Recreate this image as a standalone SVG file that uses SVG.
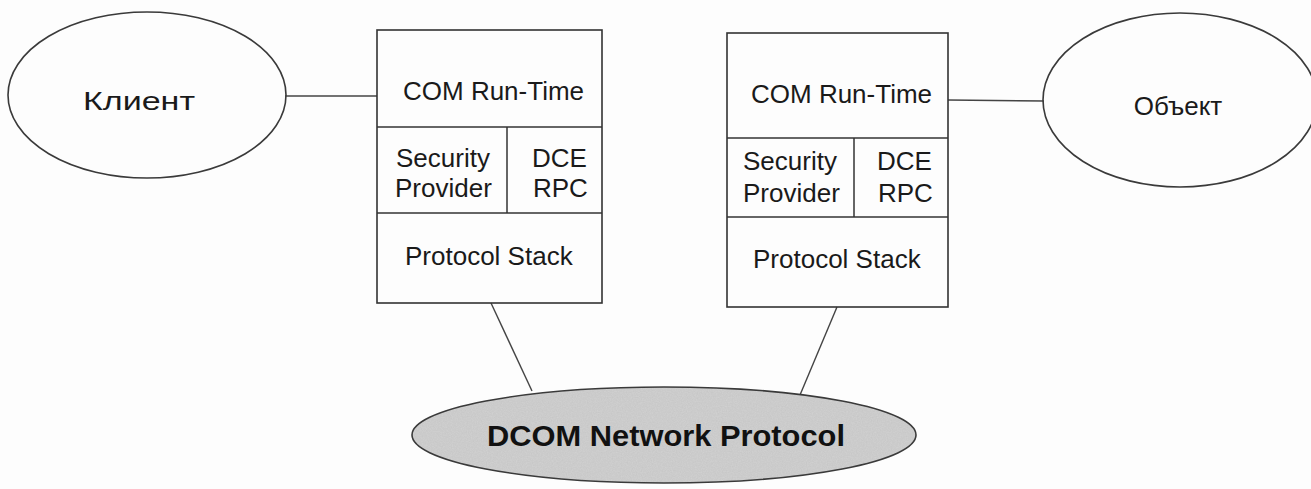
<svg xmlns="http://www.w3.org/2000/svg" width="1311" height="489" viewBox="0 0 1311 489">
  <style>
    .bg { fill: #fdfdfd; }
    .ell { fill: none; stroke: #3a3a3a; stroke-width: 1.6; }
    .box { fill: none; stroke: #333333; stroke-width: 1.6; }
    .ln { stroke: #333333; stroke-width: 1.5; fill: none; }
    .conn { stroke: #444444; stroke-width: 1.4; fill: none; }
    .t { font-family: "Liberation Sans", Arial, sans-serif; font-size: 26px; fill: #1a1a1a; }
    .tb { font-family: "Liberation Sans", Arial, sans-serif; font-size: 29px; font-weight: bold; fill: #111111; }
  </style>
  <defs>
    <filter id="grain" x="0" y="0" width="100%" height="100%">
      <feTurbulence type="fractalNoise" baseFrequency="0.8" numOctaves="2" seed="3" result="n"/>
      <feColorMatrix in="n" type="matrix" values="0 0 0 0 0.55  0 0 0 0 0.55  0 0 0 0 0.55  0 0 0 0.9 0" result="g"/>
      <feComposite in="g" in2="SourceGraphic" operator="in" result="gi"/>
      <feMerge><feMergeNode in="SourceGraphic"/><feMergeNode in="gi"/></feMerge>
    </filter>
  </defs>
  <rect class="bg" x="0" y="0" width="1311" height="489"/>

  <g id="connectors">
    <line class="conn" x1="285" y1="96" x2="377" y2="96"/>
    <line class="conn" x1="948" y1="100" x2="1044" y2="101"/>
    <line class="conn" x1="491" y1="303" x2="532" y2="391"/>
    <line class="conn" x1="837" y1="307" x2="800" y2="395"/>
  </g>

  <g id="client">
    <ellipse class="ell" cx="147" cy="95" rx="139" ry="83"/>
    <text class="t" x="139" y="110" text-anchor="middle" textLength="112" lengthAdjust="spacingAndGlyphs">Клиент</text>
  </g>

  <g id="object">
    <ellipse class="ell" cx="1180" cy="100" rx="137" ry="87" stroke="#555555"/>
    <text class="t" x="1178" y="115" text-anchor="middle">Объект</text>
  </g>

  <g id="client-stack">
    <rect class="box" x="377" y="30" width="225" height="273"/>
    <line class="ln" x1="377" y1="127" x2="602" y2="127"/>
    <line class="ln" x1="507" y1="127" x2="507" y2="213"/>
    <line class="ln" x1="377" y1="213" x2="602" y2="213"/>
    <text class="t" x="403" y="100">COM Run-Time</text>
    <text class="t" x="396" y="167">Security</text>
    <text class="t" x="395" y="197">Provider</text>
    <text class="t" x="532" y="167">DCE</text>
    <text class="t" x="533" y="197">RPC</text>
    <text class="t" x="405" y="265">Protocol Stack</text>
  </g>

  <g id="object-stack">
    <rect class="box" x="727" y="33" width="221" height="274"/>
    <line class="ln" x1="727" y1="138" x2="948" y2="138"/>
    <line class="ln" x1="854" y1="138" x2="854" y2="217"/>
    <line class="ln" x1="727" y1="217" x2="948" y2="217"/>
    <text class="t" x="751" y="103">COM Run-Time</text>
    <text class="t" x="743" y="170">Security</text>
    <text class="t" x="743" y="202">Provider</text>
    <text class="t" x="877" y="170">DCE</text>
    <text class="t" x="878" y="202">RPC</text>
    <text class="t" x="753" y="268">Protocol Stack</text>
  </g>

  <g id="dcom">
    <ellipse cx="664" cy="435" rx="252" ry="48" fill="#d2d2d2" filter="url(#grain)"/>
    <ellipse class="ell" cx="664" cy="435" rx="252" ry="48"/>
    <text class="tb" x="487" y="446" textLength="358" lengthAdjust="spacingAndGlyphs">DCOM Network Protocol</text>
  </g>
</svg>
